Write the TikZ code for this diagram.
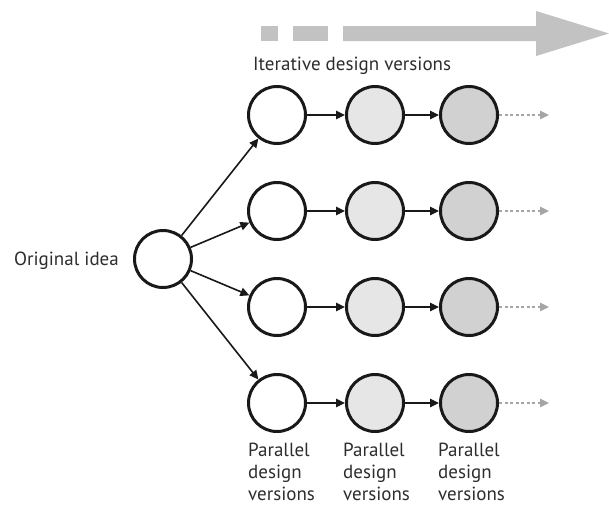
\documentclass[tikz,border=0pt]{standalone}
\usepackage{fontspec}
\setmainfont{PT Sans}
\usetikzlibrary{arrows.meta}
\definecolor{bandgray}{RGB}{194,194,194}
\definecolor{midfill}{RGB}{230,230,230}
\definecolor{darkfill}{RGB}{209,209,209}
\definecolor{dashgray}{RGB}{165,165,165}
\definecolor{ink}{RGB}{25,25,25}
\definecolor{txt}{RGB}{45,45,45}
\begin{document}
\begin{tikzpicture}[x=1pt,y=-1pt,
  ver/.style={circle, draw=ink, line width=3pt, minimum size=57pt, inner sep=0pt, fill=white},
  vmid/.style={ver, fill=midfill},
  vdark/.style={ver, fill=darkfill},
  link/.style={draw=ink, line width=1.6pt, -{Triangle[length=9pt,width=8.5pt]}},
  onward/.style={draw=dashgray, line width=1.5pt, dash pattern=on 3pt off 2.5pt, -{Triangle[length=9pt,width=8.5pt]}},
  lbl/.style={text=txt, font=\fontsize{19}{22}\selectfont, inner sep=0pt}]
\useasboundingbox (0,0) rectangle (609,506);

% progress band at the top
\fill[bandgray] (261,26) rectangle (278,41);
\fill[bandgray] (293,26) rectangle (328,41);
\fill[bandgray] (343,26) -- (536,26) -- (536,11) -- (609,33.5) -- (536,56) -- (536,41) -- (343,41) -- cycle;
\node[lbl, anchor=base west] (iter) at (253,70) {Iterative design versions};

% starting point
\node[ver] (o) at (163,259) {};
\node[lbl, anchor=base east] (orig) at (119,265) {Original idea};

% four parallel rows of three versions
\foreach \i/\y in {1/115,2/211,3/307,4/403}{
  \node[ver]   (a\i) at (277,\y) {};
  \node[vmid]  (b\i) at (375,\y) {};
  \node[vdark] (c\i) at (469,\y) {};
  \coordinate (e\i) at (549,\y);
  \draw[link] (o) -- (a\i);
  \draw[link] (a\i) -- (b\i);
  \draw[link] (b\i) -- (c\i);
  \draw[onward] (c\i) -- (e\i);
}

% column captions (anchored at the baseline of their last line)
\node[lbl, anchor=base west, align=left] (p1) at (248,500) {Parallel\\design\\versions};
\node[lbl, anchor=base west, align=left] (p2) at (343,500) {Parallel\\design\\versions};
\node[lbl, anchor=base west, align=left] (p3) at (438,500) {Parallel\\design\\versions};
\end{tikzpicture}
\end{document}
